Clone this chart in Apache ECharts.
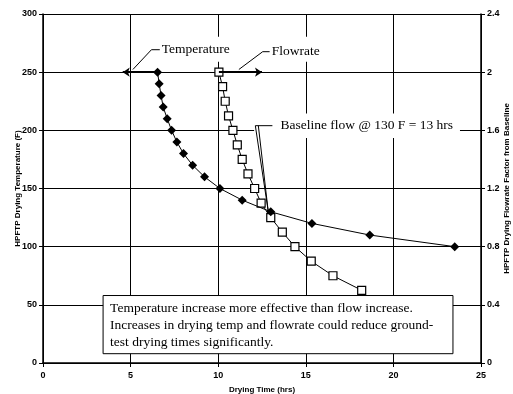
<!DOCTYPE html>
<html lang="en">
<head>
<meta charset="UTF-8">
<title>HPFTP drying</title>
<style>
  html, body { margin: 0; padding: 0; background: #fff; }
</style>
</head>
<body>
<div id="main" style="width: 513px; height: 394px;"></div>
<script src="https://cdn.jsdelivr.net/npm/echarts@6/dist/echarts.min.js"></script>
<script>
// temperature curve: drying time (hrs) vs temperature (F)
const tempTime = [6.54, 6.63, 6.74, 6.86, 7.09, 7.34, 7.64, 8.02, 8.54, 9.22, 10.1, 11.37, 13.0, 15.35, 18.65, 23.5];
const tempVals = [250, 240, 230, 220, 210, 200, 190, 180, 170, 160, 150, 140, 130, 120, 110, 100];

// flowrate curve: drying time (hrs) vs flowrate factor
const flowTime = [10.04, 10.25, 10.4, 10.59, 10.84, 11.09, 11.37, 11.7, 12.08, 12.45, 13.0, 13.66, 14.38, 15.31, 16.55, 18.19];
const flowVals = [2.0, 1.9, 1.8, 1.7, 1.6, 1.5, 1.4, 1.3, 1.2, 1.1, 1.0, 0.9, 0.8, 0.7, 0.6, 0.5];

const xTicks = [0, 5, 10, 15, 20, 25];
const tempTicks = [0, 50, 100, 150, 200, 250, 300];
const flowTicks = [0, 0.4, 0.8, 1.2, 1.6, 2.0, 2.4];

const noteLines = [
  'Temperature increase more effective than flow increase.',
  'Increases in drying temp and flowrate could reduce ground-',
  'test drying times significantly.'
];

var chartDom = document.getElementById('main');
var myChart = echarts.init(chartDom);

const sans = 'Liberation Sans, Arial, sans-serif';
const serif = 'Liberation Serif, Times New Roman, serif';
const axisText = { color: '#000', fontFamily: sans, fontWeight: 'bold', fontSize: 9 };
const nameText = { color: '#000', fontFamily: sans, fontWeight: 'bold', fontSize: 8 };

var option = {
  animation: false,
  backgroundColor: '#fff',
  grid: { left: 43, right: 32, top: 14, bottom: 31, containLabel: false, outerBoundsMode: 'none' },
  xAxis: {
    type: 'value',
    min: xTicks[0],
    max: xTicks[xTicks.length - 1],
    interval: xTicks[1] - xTicks[0],
    name: 'Drying Time (hrs)',
    nameLocation: 'middle',
    nameGap: 23,
    nameMoveOverlap: false,
    nameTextStyle: nameText,
    axisLine: { lineStyle: { color: '#000', width: 1.5 } },
    axisTick: { length: 4, lineStyle: { color: '#000' } },
    axisLabel: Object.assign({ margin: 8 }, axisText),
    splitLine: { show: true, lineStyle: { color: '#000', width: 1 } }
  },
  yAxis: [
    {
      type: 'value',
      min: tempTicks[0],
      max: tempTicks[tempTicks.length - 1],
      interval: tempTicks[1] - tempTicks[0],
      name: 'HPFTP Drying Temperature (F)',
      nameLocation: 'middle',
      nameRotate: 90,
      nameGap: 21,
      nameMoveOverlap: false,
      nameTextStyle: nameText,
      axisLine: { show: true, lineStyle: { color: '#000', width: 1.5 } },
      axisTick: { show: true, length: 4, lineStyle: { color: '#000' } },
      axisLabel: Object.assign({ margin: 6 }, axisText),
      splitLine: { show: true, lineStyle: { color: '#000', width: 1 } }
    },
    {
      type: 'value',
      position: 'right',
      min: flowTicks[0],
      max: flowTicks[flowTicks.length - 1],
      interval: 0.4,
      name: 'HPFTP Drying Flowrate Factor from Baseline',
      nameLocation: 'middle',
      nameRotate: 90,
      nameGap: 22,
      nameMoveOverlap: false,
      nameTextStyle: nameText,
      axisLine: { show: true, lineStyle: { color: '#000', width: 1.5 } },
      axisTick: { show: true, length: 4, lineStyle: { color: '#000' } },
      axisLabel: Object.assign({ margin: 6 }, axisText),
      splitLine: { show: false }
    }
  ],
  series: [
    {
      name: 'Temperature',
      type: 'line',
      data: tempTime.map((t, i) => [t, tempVals[i]]),
      symbol: 'diamond',
      symbolSize: 9,
      itemStyle: { color: '#000' },
      lineStyle: { color: '#000', width: 1 },
      z: 5,
      markLine: {
        silent: true,
        symbol: ['none', 'arrow'],
        symbolSize: 7,
        label: { show: false },
        lineStyle: { color: '#000', width: 2, type: 'solid' },
        data: [[{ coord: [tempTime[0], tempVals[0]] }, { coord: [4.55, tempVals[0]] }]]
      }
    },
    {
      name: 'Flowrate',
      type: 'line',
      yAxisIndex: 1,
      data: flowTime.map((t, i) => [t, flowVals[i]]),
      symbol: 'rect',
      symbolSize: 8,
      itemStyle: { color: '#fff', borderColor: '#000', borderWidth: 1.2 },
      lineStyle: { color: '#000', width: 1 },
      z: 4,
      markLine: {
        silent: true,
        symbol: ['none', 'arrow'],
        symbolSize: 7,
        label: { show: false },
        lineStyle: { color: '#000', width: 2, type: 'solid' },
        data: [[{ coord: [flowTime[0], flowVals[0]] }, { coord: [12.5, flowVals[0]] }]]
      }
    }
  ]
};

myChart.setOption(option);

// annotations, anchored in data space (time, temperature)
function px(t, v) {
  return myChart.convertToPixel({ xAxisIndex: 0, yAxisIndex: 0 }, [t, v]);
}

function callout(boxFrom, boxTo, textAt, text, lineFrom, lineTo) {
  const a = px(boxFrom[0], boxFrom[1]);
  const b = px(boxTo[0], boxTo[1]);
  const tp = px(textAt[0], textAt[1]);
  const p1 = px(lineFrom[0], lineFrom[1]);
  const p2 = px(lineTo[0], lineTo[1]);
  return [
    {
      type: 'rect', z: 50, silent: true,
      shape: { x: a[0], y: a[1], width: b[0] - a[0], height: b[1] - a[1] },
      style: { fill: '#fff', stroke: null }
    },
    {
      type: 'polyline', z: 51, silent: true,
      shape: { points: [[tp[0] - 2, tp[1]], [p1[0], p1[1]], [p2[0], p2[1]]] },
      style: { stroke: '#000', lineWidth: 1, fill: null }
    },
    {
      type: 'text', z: 52, silent: true,
      x: tp[0], y: tp[1],
      style: { text: text, font: '13.5px ' + serif, fill: '#000', verticalAlign: 'middle', align: 'left' }
    }
  ];
}

var g = [];
g = g.concat(callout([6.1, 280.5], [11.15, 259], [6.78, 269.3], 'Temperature', [6.19, 269.3], [5.13, 252.3]));
g = g.concat(callout([12.05, 280.5], [15.4, 259], [13.05, 267.6], 'Flowrate', [12.54, 267.6], [11.18, 252.3]));

// baseline flow callout
(function () {
  const a = px(12.05, 214.5);
  const b = px(23.8, 193.5);
  const tp = px(13.55, 204);
  const s = px(12.12, 204);
  const tip = px(12.85, 131);
  g.push({
    type: 'rect', z: 50, silent: true,
    shape: { x: a[0], y: a[1], width: b[0] - a[0], height: b[1] - a[1] },
    style: { fill: '#fff', stroke: null }
  });
  g.push({
    type: 'polyline', z: 51, silent: true,
    shape: { points: [[tp[0] - 8, s[1]], [s[0], s[1]], [tip[0], tip[1]]] },
    style: { stroke: '#000', lineWidth: 1, fill: null }
  });
  g.push({
    type: 'polyline', z: 51, silent: true,
    shape: { points: [[s[0] + 3, s[1]], [tip[0], tip[1]]] },
    style: { stroke: '#000', lineWidth: 1, fill: null }
  });
  g.push({
    type: 'text', z: 52, silent: true,
    x: tp[0], y: tp[1],
    style: { text: 'Baseline flow @ 130 F = 13 hrs', font: '13.5px ' + serif, fill: '#000', verticalAlign: 'middle', align: 'left' }
  });
})();

// note box
(function () {
  const a = px(3.43, 58);
  const b = px(23.4, 8);
  g.push({
    type: 'rect', z: 60, silent: true,
    shape: { x: a[0], y: a[1], width: b[0] - a[0], height: b[1] - a[1] },
    style: { fill: '#fff', stroke: '#000', lineWidth: 1 }
  });
  noteLines.forEach(function (line, i) {
    g.push({
      type: 'text', z: 61, silent: true,
      x: a[0] + 7, y: a[1] + 13 + i * 17,
      style: { text: line, font: '13.5px ' + serif, fill: '#000', verticalAlign: 'middle', align: 'left' }
    });
  });
})();

myChart.setOption({ graphic: { elements: g } });
</script>
</body>
</html>
